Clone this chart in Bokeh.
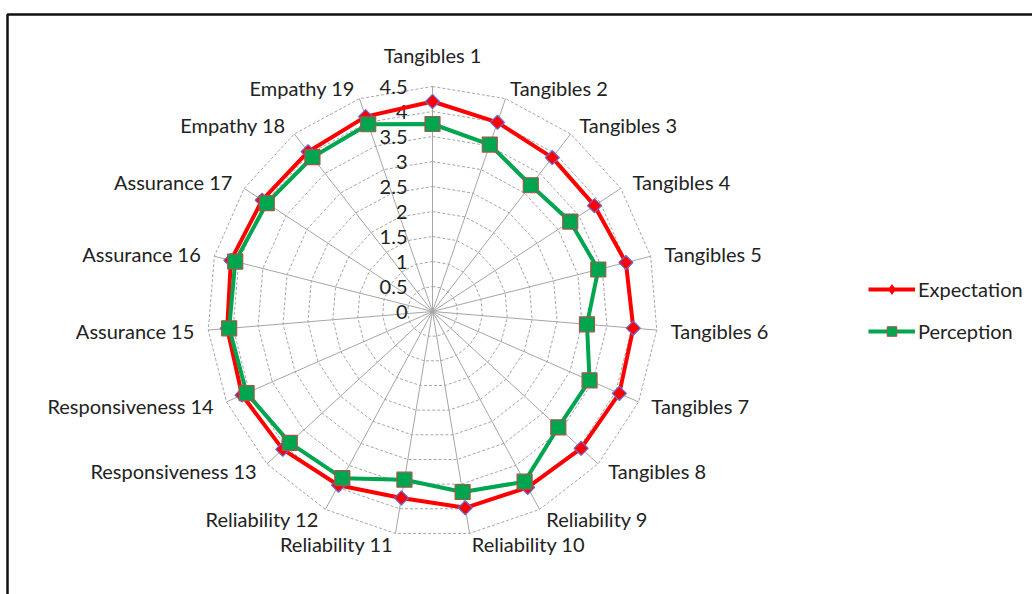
import numpy as np
from bokeh.plotting import figure
from bokeh.models import Range1d, Legend, LegendItem, BoxAnnotation, ColumnDataSource
from bokeh.core.properties import value
from bokeh.embed import file_html
from bokeh.resources import INLINE

# ---------------- data ----------------
categories = ["Tangibles 1", "Tangibles 2", "Tangibles 3", "Tangibles 4", "Tangibles 5",
              "Tangibles 6", "Tangibles 7", "Tangibles 8", "Reliability 9", "Reliability 10",
              "Reliability 11", "Reliability 12", "Responsiveness 13", "Responsiveness 14",
              "Assurance 15", "Assurance 16", "Assurance 17", "Empathy 18", "Empathy 19"]
expectation = [4.20, 4.00, 3.90, 3.87, 3.99, 4.03, 4.08, 4.04, 4.00, 3.98,
               3.78, 3.95, 4.07, 4.16, 4.12, 4.16, 4.07, 4.05, 4.12]
perception = [3.75, 3.53, 3.20, 3.29, 3.42, 3.10, 3.43, 3.42, 3.87, 3.66,
              3.41, 3.79, 3.88, 4.06, 4.08, 4.07, 3.96, 3.91, 3.96]
tick_values = [0, 0.5, 1, 1.5, 2, 2.5, 3, 3.5, 4, 4.5]
tick_labels = ["0", "0.5", "1", "1.5", "2", "2.5", "3", "3.5", "4", "4.5"]
series_names = ["Expectation", "Perception"]

# ---------------- layout ----------------
W, H = 1032, 594
CX, CY = 432, 311       # centre of the radar in pixels
PX = 50.0               # pixels per unit value
R_MAX = tick_values[-1]
FONT = "Lato"
FSIZE = "20px"
TXT = "#222222"
GRID = "#a6a6a6"

x0, x1 = -CX / PX, (W - CX) / PX
y0, y1 = -(H - CY) / PX, CY / PX

p = figure(width=W, height=H, x_range=Range1d(x0, x1), y_range=Range1d(y0, y1),
           output_backend="svg", toolbar_location=None, min_border=0)
p.axis.visible = False
p.grid.visible = False
p.outline_line_color = None
p.background_fill_color = "white"
p.border_fill_color = "white"

# chart frame border
p.add_layout(BoxAnnotation(left=x0 + 7 / PX, top=y1 - 14 / PX, right=x1 + 1, bottom=y0 - 1,
                           fill_alpha=0, line_color="#111111", line_alpha=1.0, line_width=2.5))

n = len(categories)
theta = np.arange(n) * 2 * np.pi / n
s, c = np.sin(theta), np.cos(theta)

# rings
for t in tick_values[1:]:
    xs = list(t * s) + [t * s[0]]
    ys = list(t * c) + [t * c[0]]
    p.line(xs, ys, line_color=GRID, line_dash="3 2", line_width=1)
# spokes
p.multi_line(xs=[[0, R_MAX * a] for a in s], ys=[[0, R_MAX * b] for b in c],
             line_color=GRID, line_width=1)

# tick labels
p.text(x=[-0.5] * len(tick_values), y=tick_values, text=tick_labels,
       text_font=value(FONT), text_font_size=FSIZE, text_color=TXT,
       text_align="right", text_baseline="middle")

# category labels
groups = {"left": ([], [], []), "right": ([], [], []), "center": ([], [], [])}
for i, name in enumerate(categories):
    if abs(s[i]) < 0.05:
        key = "center"
        lx, ly = 0.0, R_MAX * c[i] + (0.4 if c[i] > 0 else -0.4)
    else:
        key = "left" if s[i] > 0 else "right"
        lx = (R_MAX + 0.28) * s[i]
        ly = R_MAX * c[i] + 0.22 * c[i]
    groups[key][0].append(lx)
    groups[key][1].append(ly)
    groups[key][2].append(name)
for key, (gx, gy, gt) in groups.items():
    if not gt:
        continue
    base = "middle"
    if key == "center":
        base = "bottom" if gy[0] > 0 else "top"
    p.text(x=gx, y=gy, text=gt, text_font=value(FONT), text_font_size=FSIZE,
           text_color=TXT, text_align=key, text_baseline=base)

# series
def closed(vals):
    v = np.array(vals)
    xs = v * s
    ys = v * c
    return list(xs) + [xs[0]], list(ys) + [ys[0]], xs, ys

ex_lx, ex_ly, ex_x, ex_y = closed(expectation)
pe_lx, pe_ly, pe_x, pe_y = closed(perception)
ex_src = ColumnDataSource(dict(x=ex_x, y=ex_y))
pe_src = ColumnDataSource(dict(x=pe_x, y=pe_y))

RED, GREEN = "#ff0000", "#00a550"
r_line = p.line(ex_lx, ex_ly, line_color=RED, line_width=4)
r_mark = p.scatter("x", "y", source=ex_src, marker="square", size=10, angle=np.pi / 4,
                   fill_color=RED, line_color="#6a6ad8", line_width=1.2)
g_line = p.line(pe_lx, pe_ly, line_color=GREEN, line_width=4)
g_mark = p.scatter("x", "y", source=pe_src, marker="square", size=15,
                   fill_color=GREEN, line_color="#a0584a", line_width=1.2)

# legend-only glyphs (hidden on the plot, drawn in the legend)
r_leg = p.scatter("x", "y", source=ex_src, marker="diamond", size=14,
                  fill_color=RED, line_color=RED, visible=False)
g_leg = p.scatter("x", "y", source=pe_src, marker="square", size=13,
                  fill_color=GREEN, line_color="#a0584a", visible=False)

legend = Legend(items=[LegendItem(label=series_names[0], renderers=[r_line, r_leg]),
                       LegendItem(label=series_names[1], renderers=[g_line, g_leg])],
                location=(868, 251), orientation="vertical",
                glyph_width=47, glyph_height=24, label_height=24, spacing=18,
                label_standoff=3, padding=0, margin=0,
                inactive_fill_alpha=0,
                label_text_font=FONT, label_text_font_size=FSIZE, label_text_color=TXT,
                border_line_alpha=0, background_fill_alpha=0)
p.add_layout(legend)

open("out.html", "w").write(file_html(p, INLINE))
